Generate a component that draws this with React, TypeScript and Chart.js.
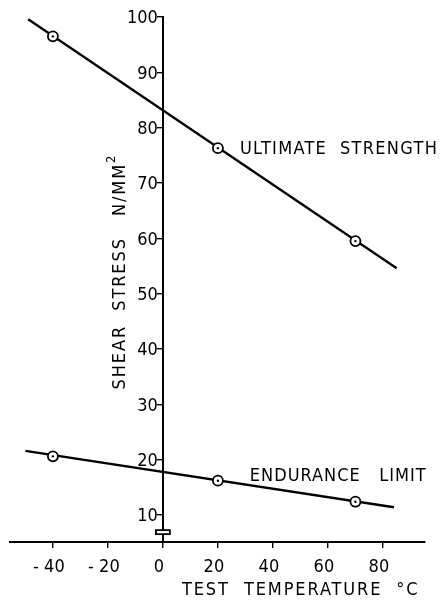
import React, { useEffect, useRef } from "react";
import { Chart, registerables } from "chart.js";

Chart.register(...registerables);

// Measured points (test temperature °C, shear stress N/mm²)
const temperatures = [-40, 20, 70];
const ultimateStrength = [96.5, 76.3, 59.5];
const enduranceLimit = [20.6, 16.2, 12.4];

// Fitted straight lines (end points)
const ultimateFitX = [-49, 85];
const ultimateFitY = [99.6, 54.6];
const enduranceFitX = [-50, 84];
const enduranceFitY = [21.6, 11.4];

const xTicks = [-40, -20, 0, 20, 40, 60, 80];
const yTicks = [10, 20, 30, 40, 50, 60, 70, 80, 90, 100];

const seriesLabels = [
  { text: "ULTIMATE  STRENGTH", x: 28, y: 76, spacing: 1.3 },
  { text: "ENDURANCE   LIMIT", x: 31.6, y: 16.9, spacing: 1.0 },
];
const xTitle = "TEST  TEMPERATURE  °C";
const yTitle = "SHEAR  STRESS   N/MM";
const yTitleSup = "2";
const breakValue = 6.9;

const FONT = '"DejaVu Sans Condensed", "DejaVu Sans", sans-serif';
const SIZE = 18;

const overlay = {
  id: "overlay",
  afterDraw(chart: any) {
    const { ctx, scales, chartArea } = chart;
    const xs = scales.x;
    const ys = scales.y;
    const axisX = xs.getPixelForValue(0);
    ctx.save();
    ctx.fillStyle = "#000";
    ctx.font = `${SIZE}px ${FONT}`;
    ctx.textBaseline = "middle";

    // series labels
    ctx.textAlign = "left";
    for (const l of seriesLabels) {
      (ctx as any).letterSpacing = `${l.spacing}px`;
      ctx.fillText(l.text, xs.getPixelForValue(l.x), ys.getPixelForValue(l.y));
    }

    // y tick labels
    (ctx as any).letterSpacing = "0px";
    ctx.textAlign = "right";
    for (const v of yTicks) {
      ctx.fillText(String(v), axisX - 5, ys.getPixelForValue(v) + 1.5);
    }

    // x title
    (ctx as any).letterSpacing = "1.9px";
    ctx.textAlign = "left";
    ctx.fillText(xTitle, axisX + 19, chartArea.bottom + 48);

    // axis break symbol
    const by = ys.getPixelForValue(breakValue);
    ctx.fillStyle = "#fff";
    ctx.fillRect(axisX - 7, by - 2, 14, 4);
    ctx.strokeStyle = "#000";
    ctx.lineWidth = 1.8;
    ctx.strokeRect(axisX - 7, by - 2, 14, 4);

    // y title (rotated)
    ctx.save();
    ctx.translate(axisX - 43, (chartArea.top + chartArea.bottom) / 2 - 8);
    ctx.rotate(-Math.PI / 2);
    ctx.fillStyle = "#000";
    ctx.font = `${SIZE}px ${FONT}`;
    (ctx as any).letterSpacing = "1.9px";
    const wMain = ctx.measureText(yTitle).width;
    ctx.font = `13px ${FONT}`;
    const wSup = ctx.measureText(yTitleSup).width;
    const total = wMain + wSup;
    ctx.font = `${SIZE}px ${FONT}`;
    ctx.textAlign = "left";
    ctx.textBaseline = "middle";
    ctx.fillText(yTitle, -total / 2, 0);
    ctx.font = `13px ${FONT}`;
    ctx.fillText(yTitleSup, -total / 2 + wMain, -8);
    ctx.restore();
    ctx.restore();
  },
};

export default function App() {
  const ref = useRef<HTMLCanvasElement | null>(null);
  useEffect(() => {
    if (!ref.current) return;
    const pts = (ys: number[]) => temperatures.map((t, i) => ({ x: t, y: ys[i] }));
    const fit = (xs: number[], ys: number[]) => xs.map((x, i) => ({ x, y: ys[i] }));
    const lineDs = (data: any) => ({
      type: "line" as const,
      data,
      borderColor: "#000",
      borderWidth: 2.3,
      pointRadius: 0,
      fill: false,
      order: 3,
    });
    const markerDs = (data: any) => ({
      type: "scatter" as const,
      data,
      pointStyle: "circle",
      pointRadius: 5,
      pointBackgroundColor: "#fff",
      pointBorderColor: "#000",
      pointBorderWidth: 1.8,
      order: 2,
    });
    const dotDs = (data: any) => ({
      type: "scatter" as const,
      data,
      pointStyle: "circle",
      pointRadius: 1.2,
      pointBackgroundColor: "#000",
      pointBorderColor: "#000",
      pointBorderWidth: 0,
      order: 1,
    });
    const chart = new Chart(ref.current, {
      type: "scatter",
      data: {
        datasets: [
          lineDs(fit(ultimateFitX, ultimateFitY)),
          lineDs(fit(enduranceFitX, enduranceFitY)),
          markerDs(pts(ultimateStrength)),
          markerDs(pts(enduranceLimit)),
          dotDs(pts(ultimateStrength)),
          dotDs(pts(enduranceLimit)),
        ] as any,
      },
      options: {
        animation: false,
        responsive: false,
        devicePixelRatio: 1,
        layout: { padding: { left: 10, right: 16, top: 17, bottom: 0 } },
        plugins: { legend: { display: false }, tooltip: { enabled: false } },
        scales: {
          x: {
            type: "linear",
            position: "bottom",
            min: -55.6,
            max: 95.3,
            afterBuildTicks: (s: any) => {
              s.ticks = xTicks.map((v) => ({ value: v }));
            },
            afterFit: (s: any) => {
              s.height = 65;
            },
            border: { display: true, color: "#000", width: 2 },
            grid: { drawOnChartArea: false, drawTicks: true, tickLength: 6, color: "#000", lineWidth: 1.4 },
            ticks: {
              color: "#000",
              font: { family: FONT, size: SIZE },
              padding: 9,
              labelOffset: -4,
              callback: (v: any) => (v < 0 ? "- " + Math.abs(v) : String(v)),
            },
          },
          y: {
            type: "linear",
            position: { x: 0 } as any,
            min: 5.12,
            max: 100,
            afterBuildTicks: (s: any) => {
              s.ticks = yTicks.map((v) => ({ value: v }));
            },
            border: { display: true, color: "#000", width: 2 },
            grid: { drawOnChartArea: false, drawTicks: true, tickLength: 5, color: "#000", lineWidth: 1.4 },
            ticks: { display: false },
          },
        },
      },
      plugins: [overlay],
    } as any);
    return () => chart.destroy();
  }, []);
  return (
    <div style={{ position: "absolute", left: 0, top: 0, width: 441, height: 607, background: "#fff" }}>
      <canvas ref={ref} width={441} height={607} />
    </div>
  );
}
